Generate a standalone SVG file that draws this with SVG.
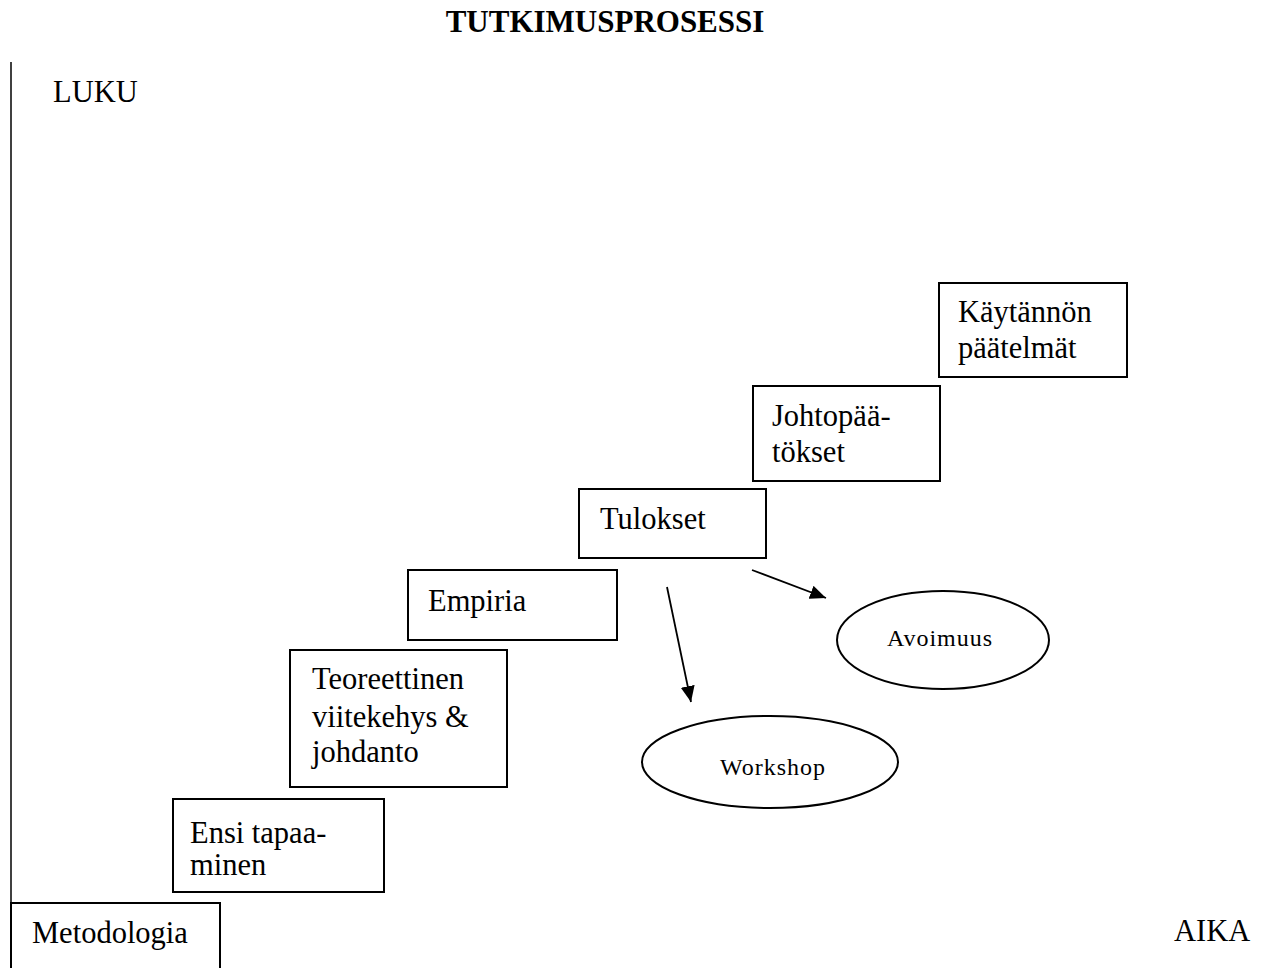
<svg xmlns="http://www.w3.org/2000/svg" width="1276" height="968" viewBox="0 0 1276 968">
  <style>
    .box { fill: #ffffff; stroke: #000000; stroke-width: 2; }
    .oval { fill: #ffffff; stroke: #000000; stroke-width: 2; }
    .lbl { font-family: "Liberation Serif", "Times New Roman", serif; font-size: 30.5px; fill: #000000; }
    .small { font-family: "Liberation Serif", "Times New Roman", serif; font-size: 24px; letter-spacing: 1px; fill: #000000; }
    .title { font-family: "Liberation Serif", "Times New Roman", serif; font-size: 31px; font-weight: bold; fill: #000000; }
    .axis { stroke: #000000; stroke-width: 1.5; fill: none; }
    .link { stroke: #000000; stroke-width: 1.8; fill: none; marker-end: url(#head); }
  </style>
  <defs>
    <marker id="head" viewBox="0 0 16 14" refX="16" refY="7" markerWidth="16" markerHeight="14" markerUnits="userSpaceOnUse" orient="auto">
      <path d="M0,0 L16,7 L0,14 Z" fill="#000000"/>
    </marker>
  </defs>

  <rect x="0" y="0" width="1276" height="968" fill="#ffffff"/>

  <!-- heading and axes -->
  <text class="title" x="605" y="32" text-anchor="middle">TUTKIMUSPROSESSI</text>
  <line class="axis" x1="11" y1="62" x2="11" y2="968"/>
  <text class="lbl" x="53" y="102">LUKU</text>
  <text class="lbl" x="1174" y="941">AIKA</text>

  <!-- process steps -->
  <g id="metodologia">
    <rect class="box" x="11" y="903" width="209" height="80"/>
    <text class="lbl" x="32" y="943">Metodologia</text>
  </g>
  <g id="ensi-tapaaminen">
    <rect class="box" x="173" y="799" width="211" height="93"/>
    <text class="lbl" x="190" y="843">Ensi tapaa-</text>
    <text class="lbl" x="190" y="875">minen</text>
  </g>
  <g id="teoreettinen">
    <rect class="box" x="290" y="650" width="217" height="137"/>
    <text class="lbl" x="312" y="689">Teoreettinen</text>
    <text class="lbl" x="312" y="727">viitekehys &amp;</text>
    <text class="lbl" x="312" y="762">johdanto</text>
  </g>
  <g id="empiria">
    <rect class="box" x="408" y="570" width="209" height="70"/>
    <text class="lbl" x="428" y="611">Empiria</text>
  </g>
  <g id="tulokset">
    <rect class="box" x="579" y="489" width="187" height="69"/>
    <text class="lbl" x="600" y="529">Tulokset</text>
  </g>
  <g id="johtopaatokset">
    <rect class="box" x="753" y="386" width="187" height="95"/>
    <text class="lbl" x="772" y="426">Johtopää-</text>
    <text class="lbl" x="772" y="462">tökset</text>
  </g>
  <g id="kaytannon-paatelmat">
    <rect class="box" x="939" y="283" width="188" height="94"/>
    <text class="lbl" x="958" y="322">Käytännön</text>
    <text class="lbl" x="958" y="358">päätelmät</text>
  </g>

  <!-- outcomes -->
  <g id="workshop">
    <ellipse class="oval" cx="770" cy="762" rx="128" ry="46"/>
    <text class="small" x="773" y="775" text-anchor="middle">Workshop</text>
  </g>
  <g id="avoimuus">
    <ellipse class="oval" cx="943" cy="640" rx="106" ry="49"/>
    <text class="small" x="940" y="646" text-anchor="middle">Avoimuus</text>
  </g>

  <!-- connectors -->
  <g id="connectors">
    <line class="link" x1="667" y1="587" x2="691" y2="702"/>
    <line class="link" x1="752" y1="570" x2="826" y2="598"/>
  </g>
</svg>
